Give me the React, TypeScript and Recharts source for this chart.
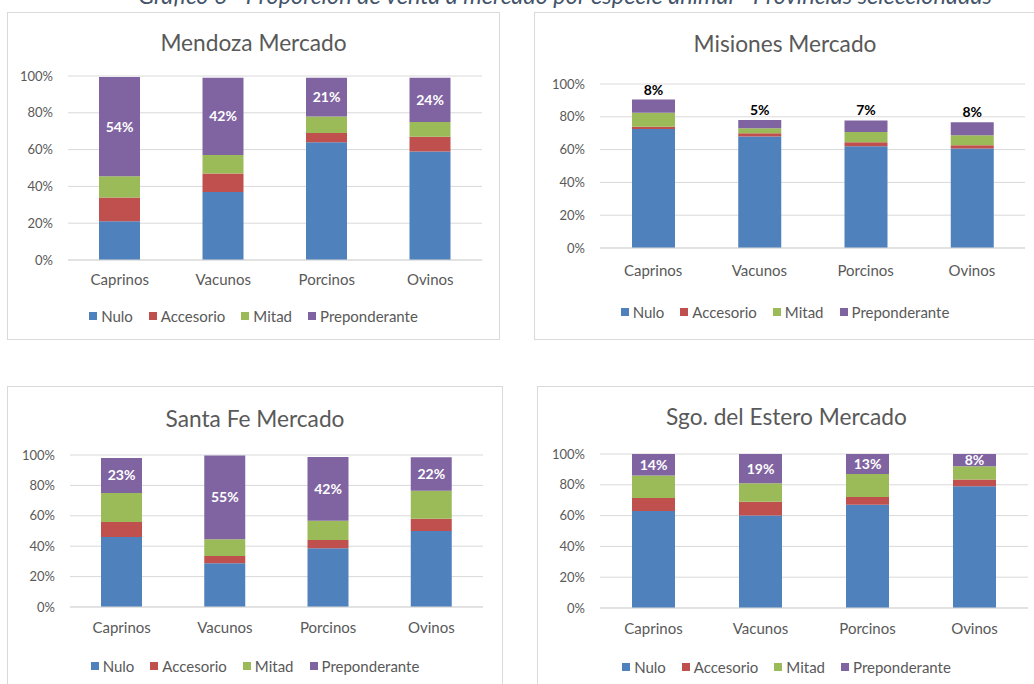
import * as React from "react"
import { Bar, BarChart, CartesianGrid, LabelList, XAxis, YAxis } from "recharts"

const categories = ["Caprinos", "Vacunos", "Porcinos", "Ovinos"]
const seriesNames = ["Nulo", "Accesorio", "Mitad", "Preponderante"]
const seriesColors = ["#4F81BD", "#C0504D", "#9BBB59", "#8064A2"]
const yTicks = [0, 20, 40, 60, 80, 100]

// values in % per category (Caprinos, Vacunos, Porcinos, Ovinos)
const mendozaNulo = [21, 37, 64, 59]
const mendozaAccesorio = [13, 10, 5, 8]
const mendozaMitad = [11.5, 10, 9, 8]
const mendozaPreponderante = [54, 42, 21, 24]

const misionesNulo = [72.5, 68, 62, 60.7]
const misionesAccesorio = [1.5, 2, 2.5, 2]
const misionesMitad = [8.5, 3, 6.3, 6]
const misionesPreponderante = [8, 5, 7, 8]

const santaFeNulo = [46, 28.8, 38.7, 50]
const santaFeAccesorio = [10, 4.8, 5.3, 8]
const santaFeMitad = [19, 11, 12.7, 18.5]
const santaFePreponderante = [23, 55, 42, 22]

const sgoNulo = [63, 60, 67, 79]
const sgoAccesorio = [8.5, 9, 5, 4.5]
const sgoMitad = [14.5, 12, 15, 8.5]
const sgoPreponderante = [14, 19, 13, 8]

const FONT = "Lato, 'Liberation Sans', sans-serif"
const TEXT = "#595959"
const GRID = "#D9D9D9"
const X_AXIS_H = 30

function buildRows(nulo: number[], acc: number[], mitad: number[], prep: number[]) {
  return categories.map((name, i) => ({
    name,
    Nulo: nulo[i],
    Accesorio: acc[i],
    Mitad: mitad[i],
    Preponderante: prep[i],
  }))
}

interface PanelProps {
  title: string
  rows: any[]
  left: number
  top: number
  width: number
  height: number
  plotTop: number
  plotBottom: number
  plotRight: number
  yWidth: number
  barSize: number
  titleY: number
  legendY: number
  xTickMargin: number
  labelAbove?: boolean
}

function Panel({
  title, rows, left, top, width, height, plotTop, plotBottom, plotRight, yWidth, barSize,
  titleY, legendY, xTickMargin, labelAbove,
}: PanelProps) {
  return (
    <div
      style={{
        position: "absolute",
        left,
        top,
        width,
        height,
        border: `1px solid ${GRID}`,
        boxSizing: "border-box",
        background: "#fff",
        fontFamily: FONT,
      }}
    >
      <div
        style={{
          position: "absolute",
          left: 0,
          width: "100%",
          top: titleY - 15,
          textAlign: "center",
          fontSize: 22.7,
          lineHeight: "30px",
          color: TEXT,
        }}
      >
        {title}
      </div>
      <div style={{ position: "absolute", left: -1, top: -1 }}>
        <BarChart
          width={width}
          height={height}
          data={rows}
          margin={{
            top: plotTop,
            right: width - plotRight,
            bottom: height - plotBottom - X_AXIS_H,
            left: 0,
          }}
          barSize={barSize}
        >
          <CartesianGrid vertical={false} stroke={GRID} />
          <XAxis
            dataKey="name"
            height={X_AXIS_H}
            axisLine={{ stroke: GRID }}
            tickLine={false}
            tick={{ fill: TEXT, fontSize: 15, fontFamily: FONT }}
            tickMargin={xTickMargin}
          />
          <YAxis
            width={yWidth}
            domain={[0, 100]}
            ticks={yTicks}
            axisLine={false}
            tickLine={false}
            tickMargin={9}
            tick={{ fill: TEXT, fontSize: 13, fontFamily: FONT }}
            tickFormatter={(v) => `${v}%`}
          />
          {seriesNames.map((s, i) => (
            <Bar key={s} dataKey={s} stackId="a" fill={seriesColors[i]} isAnimationActive={false}>
              {s === "Preponderante" && (
                <LabelList
                  dataKey={s}
                  position={labelAbove ? "top" : "center"}
                  offset={labelAbove ? 5 : 0}
                  formatter={(v: any) => `${Math.round(Number(v))}%`}
                  style={{
                    fill: labelAbove ? "#000" : "#fff",
                    fontSize: 14,
                    fontWeight: 700,
                    fontFamily: FONT,
                  }}
                />
              )}
            </Bar>
          ))}
        </BarChart>
      </div>
      <div
        style={{
          position: "absolute",
          left: 0,
          width: "100%",
          top: legendY - 10,
          display: "flex",
          justifyContent: "center",
          fontSize: 15,
          lineHeight: "20px",
          color: TEXT,
        }}
      >
        {seriesNames.map((s, i) => (
          <div key={s} style={{ display: "flex", alignItems: "center", marginRight: i < 3 ? 16 : 0 }}>
            <span style={{ width: 8, height: 8, background: seriesColors[i], marginRight: 4, display: "inline-block" }} />
            {s}
          </div>
        ))}
      </div>
    </div>
  )
}

export default function App() {
  return (
    <div style={{ position: "absolute", left: 0, top: 0, width: 1034, height: 684, overflow: "hidden", background: "#fff" }}>
      <svg width={1034} height={20} style={{ position: "absolute", left: 0, top: 0 }}>
        <text
          x={565}
          y={4}
          textAnchor="middle"
          fontFamily={FONT}
          fontStyle="italic"
          fontSize={23.5}
          fill="#44546A"
        >
          Gráfico 6 - Proporción de venta a mercado por especie animal - Provincias seleccionadas
        </text>
      </svg>
      <Panel
        title="Mendoza Mercado"
        rows={buildRows(mendozaNulo, mendozaAccesorio, mendozaMitad, mendozaPreponderante)}
        left={7} top={12} width={493} height={328}
        plotTop={64} plotBottom={248} plotRight={475}
        yWidth={61} barSize={41}
        titleY={30} legendY={303} xTickMargin={8}
      />
      <Panel
        title="Misiones Mercado"
        rows={buildRows(misionesNulo, misionesAccesorio, misionesMitad, misionesPreponderante)}
        left={534} top={12} width={502} height={328}
        plotTop={72} plotBottom={236} plotRight={491}
        yWidth={66} barSize={43}
        titleY={31} legendY={299} xTickMargin={11}
        labelAbove
      />
      <Panel
        title="Santa Fe Mercado"
        rows={buildRows(santaFeNulo, santaFeAccesorio, santaFeMitad, santaFePreponderante)}
        left={7} top={386} width={496} height={300}
        plotTop={69} plotBottom={221} plotRight={476}
        yWidth={63} barSize={41}
        titleY={32} legendY={279} xTickMargin={9}
      />
      <Panel
        title="Sgo. del Estero Mercado"
        rows={buildRows(sgoNulo, sgoAccesorio, sgoMitad, sgoPreponderante)}
        left={537} top={386} width={499} height={300}
        plotTop={68} plotBottom={222} plotRight={491}
        yWidth={63} barSize={43}
        titleY={30} legendY={280} xTickMargin={9}
      />
    </div>
  )
}
